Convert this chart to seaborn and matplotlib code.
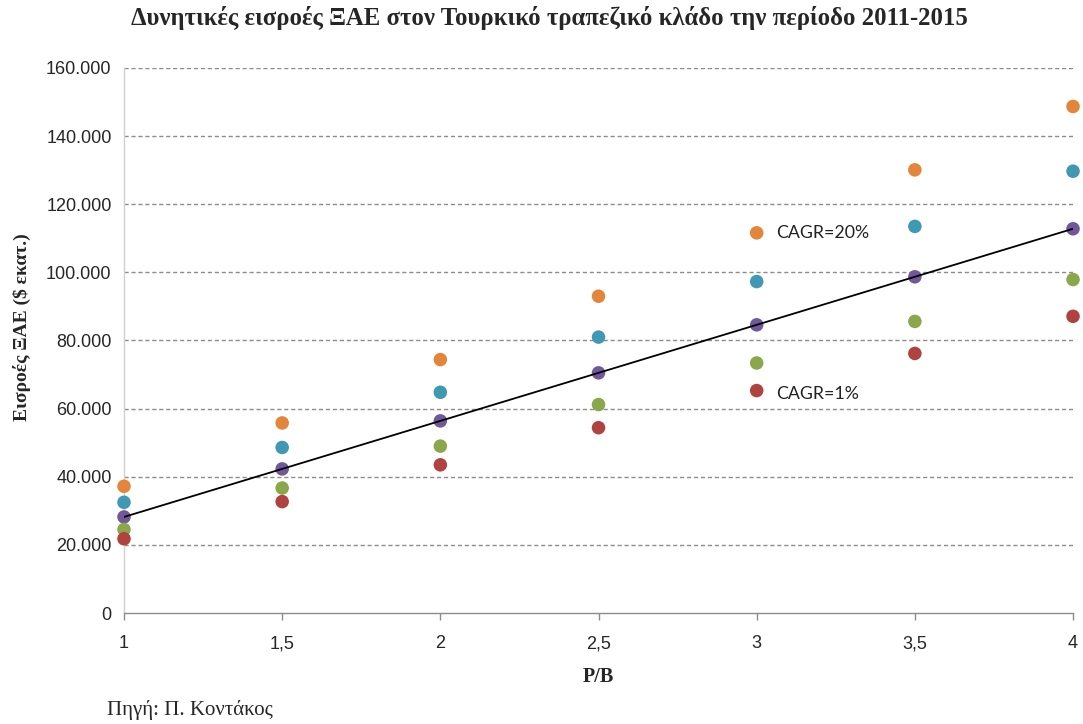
import matplotlib
matplotlib.use("Agg")
import matplotlib.pyplot as plt
from matplotlib.ticker import FuncFormatter, MultipleLocator
import seaborn as sns
import pandas as pd

# P/B multiples on the x axis
pb = [1, 1.5, 2, 2.5, 3, 3.5, 4]

# Potential FDI inflows ($ million) per growth scenario
cagr_20 = [37200, 55800, 74400, 93000, 111600, 130100, 148700]
scen_2 = [32500, 48600, 64800, 81000, 97300, 113500, 129700]
scen_3 = [28200, 42300, 56400, 70500, 84600, 98700, 112800]
scen_4 = [24500, 36700, 49000, 61200, 73400, 85600, 97900]
cagr_1 = [21800, 32700, 43500, 54400, 65300, 76200, 87100]

scenario_names = ["Σ1", "Σ2", "Σ3", "Σ4", "Σ5"]
scenario_values = [cagr_20, scen_2, scen_3, scen_4, cagr_1]
palette = ["#E3853A", "#4099B3", "#71589A", "#8AA84B", "#B0433F"]

title = "Δυνητικές εισροές ΞΑΕ στον Τουρκικό τραπεζικό κλάδο την περίοδο 2011-2015"
ylabel = "Εισροές ΞΑΕ ($ εκατ.)"
xlabel = "P/B"
source = "Πηγή: Π. Κοντάκος"

rows = []
for name, vals in zip(scenario_names, scenario_values):
    for x, v in zip(pb, vals):
        rows.append({"pb": x, "value": v, "scenario": name})
df = pd.DataFrame(rows)

sns.set_theme(style="white")
plt.rcParams["font.family"] = ["Liberation Sans", "DejaVu Sans"]

fig = plt.figure(figsize=(10.83, 7.24), dpi=100)
ax = fig.add_axes([0.1145, 0.1533, 0.8763, 0.7528])

sns.scatterplot(data=df, x="pb", y="value", hue="scenario", palette=palette,
                hue_order=scenario_names, s=95, edgecolor="none", legend=False,
                ax=ax, clip_on=False, zorder=3)

# Linear trend through the middle scenario
mid = df[df["scenario"] == "Σ3"]
sns.regplot(data=mid, x="pb", y="value", scatter=False, ci=None, truncate=True,
            line_kws={"color": "black", "linewidth": 1.3, "zorder": 4}, ax=ax)

ax.set_xlim(1, 4)
ax.set_ylim(0, 160000)
ax.xaxis.set_major_locator(MultipleLocator(0.5))
ax.yaxis.set_major_locator(MultipleLocator(20000))
ax.xaxis.set_major_formatter(FuncFormatter(lambda v, p: f"{v:g}".replace(".", ",")))
ax.yaxis.set_major_formatter(FuncFormatter(lambda v, p: f"{int(v):,}".replace(",", ".")))

for yv in range(20000, 160001, 20000):
    ax.axhline(yv, color="#8C8C8C", linestyle=(0, (3, 2)), linewidth=1.0, zorder=1)

for s in ["top", "right"]:
    ax.spines[s].set_visible(False)
ax.spines["left"].set_color("#D0D0D0")
ax.spines["bottom"].set_color("#8C8C8C")
ax.spines["left"].set_linewidth(1.0)
ax.spines["bottom"].set_linewidth(1.0)

ax.tick_params(axis="x", which="major", bottom=True, length=5, width=1.0,
               color="#8C8C8C", labelsize=13, pad=11)
ax.tick_params(axis="y", which="major", left=False, length=0,
               labelsize=13, pad=9)
ax.set_xlabel("")
ax.set_ylabel("")

ax.text(3.06, cagr_20[4], "CAGR=20%", fontsize=12.8, family=["Lato", "DejaVu Sans"],
        va="center", ha="left", color="#222222")
ax.text(3.06, cagr_1[4] - 1000, "CAGR=1%", fontsize=12.8, family=["Lato", "DejaVu Sans"],
        va="center", ha="left", color="#222222")

serif = ["Liberation Serif", "DejaVu Serif"]
fig.text(0.5075, 0.975, title, ha="center", va="center", fontsize=17.8,
         fontweight="bold", family=serif)
fig.text(0.02, 0.548, ylabel, ha="center", va="center", rotation=90,
         fontsize=14, fontweight="bold", family=serif)
fig.text(0.552, 0.065, xlabel, ha="center", va="center", fontsize=14.5,
         fontweight="bold", family=serif)
fig.text(0.099, 0.019, source, ha="left", va="center", fontsize=15, family=serif)

fig.savefig("out.png", dpi=100)
